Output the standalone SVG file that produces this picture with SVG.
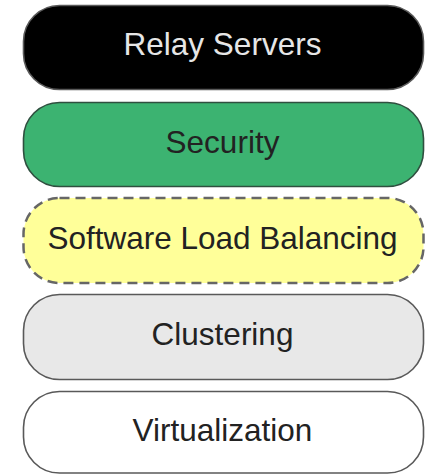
<svg xmlns="http://www.w3.org/2000/svg" width="426" height="474" viewBox="0 0 426 474">
<style>
.box{stroke:#595959;stroke-width:1.6}
.lbl{font-family:"Liberation Sans",Arial,sans-serif;font-size:31.5px;text-anchor:middle;fill:#222}
</style>
<rect width="426" height="474" fill="#fff"/>
<g id="relay">
<rect class="box" x="23.5" y="5.5" width="400" height="84" rx="36" ry="36" fill="#000"/>
<text class="lbl" x="222.5" y="55" style="fill:#e6e6e6">Relay Servers</text>
</g>
<g id="security">
<rect class="box" x="23.5" y="102.5" width="400" height="84" rx="36" ry="36" fill="#3cb371" style="stroke:#2f4f3f"/>
<text class="lbl" x="222.5" y="153">Security</text>
</g>
<g id="slb">
<rect class="box" x="23.5" y="198" width="400" height="85" rx="36" ry="36" fill="#ffff99" style="stroke:#666;stroke-width:2.5;stroke-dasharray:10 6"/>
<text class="lbl" x="222.5" y="249">Software Load Balancing</text>
</g>
<g id="clustering">
<rect class="box" x="23.5" y="294.5" width="400" height="85" rx="36" ry="36" fill="#e8e8e8"/>
<text class="lbl" x="222.5" y="345">Clustering</text>
</g>
<g id="virtualization">
<rect class="box" x="23.5" y="391.5" width="400" height="81.5" rx="36" ry="36" fill="#fff"/>
<text class="lbl" x="222.5" y="441">Virtualization</text>
</g>
<g id="connectors"/>
</svg>
